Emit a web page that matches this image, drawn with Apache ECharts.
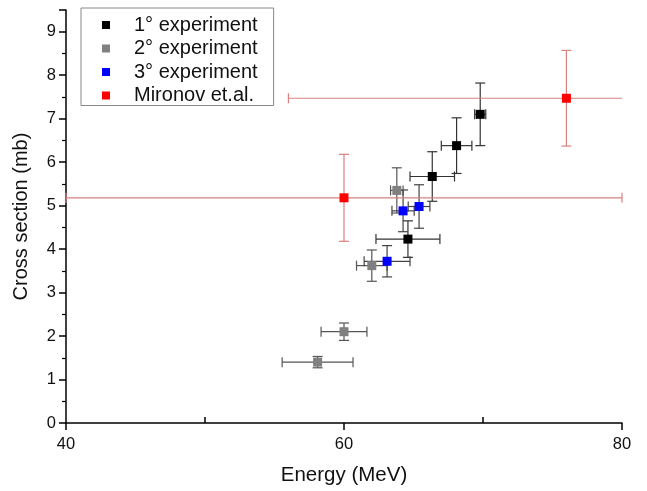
<!DOCTYPE html>
<html><head><meta charset="utf-8">
<script src="https://cdn.jsdelivr.net/npm/echarts@6/dist/echarts.min.js"></script>
<style>html,body{margin:0;padding:0;background:#fff}#c{width:647px;height:491px}</style>
</head><body><div id="c"></div>
<script>
// 1° experiment
const exp1E  = [69.8, 68.1, 66.35, 64.6];
const exp1V  = [7.1, 6.38, 5.67, 4.23];
const exp1dE = [0.4, 1.1, 1.6, 2.3];
const exp1dV = [0.72, 0.64, 0.57, 0.42];
// 2° experiment
const exp2E  = [63.8, 62.0, 60.0, 58.1];
const exp2V  = [5.35, 3.62, 2.1, 1.4];
const exp2dE = [0.45, 1.1, 1.65, 2.55];
const exp2dV = [0.52, 0.36, 0.2, 0.13];
// 3° experiment
const exp3E  = [64.25, 65.4, 63.1];
const exp3V  = [4.88, 4.98, 3.72];
const exp3dE = [0.8, 0.78, 1.65];
const exp3dV = [0.48, 0.5, 0.36];
// Mironov et.al.
const mirE  = [60.0, 76.0];
const mirV  = [5.18, 7.47];
const mirdE = [20, 20];
const mirdV = [1.0, 1.1];
// axis ticks
const xMinorTicks = [50, 70];

const seriesDefs = [
  {name: '1° experiment', E: exp1E, V: exp1V, dE: exp1dE, dV: exp1dV, color: '#000000', err: '#333333'},
  {name: '2° experiment', E: exp2E, V: exp2V, dE: exp2dE, dV: exp2dV, color: '#808080', err: '#555555'},
  {name: '3° experiment', E: exp3E, V: exp3V, dE: exp3dE, dV: exp3dV, color: '#0000ff', err: '#444444'},
  {name: 'Mironov et.al.', E: mirE, V: mirV, dE: mirdE, dV: mirdV, color: '#ff0000', err: '#d98080'}
];

function errSeries(d) {
  return {
    type: 'custom', name: d.name + ' err', silent: true, z: 1,
    xAxisIndex: 0, yAxisIndex: 0,
    data: d.E.map((e, i) => [e, d.V[i], d.dE[i], d.dV[i]]),
    renderItem: function (params, api) {
      const cs = params.coordSys;
      const x = api.value(0), y = api.value(1), dx = api.value(2), dy = api.value(3);
      const c = api.coord([x, y]);
      let l = api.coord([x - dx, y])[0], r = api.coord([x + dx, y])[0];
      const t = api.coord([x, y + dy])[1], b = api.coord([x, y - dy])[1];
      const lClip = l < cs.x - 0.5, rClip = r > cs.x + cs.width + 0.5;
      l = Math.max(l, cs.x); r = Math.min(r, cs.x + cs.width);
      const cap = 5;
      const st = {stroke: d.err, lineWidth: 1.2, fill: null};
      const ch = [
        {type: 'line', shape: {x1: l, y1: c[1], x2: r, y2: c[1]}, style: st},
        {type: 'line', shape: {x1: c[0], y1: t, x2: c[0], y2: b}, style: st},
        {type: 'line', shape: {x1: c[0] - cap, y1: t, x2: c[0] + cap, y2: t}, style: st},
        {type: 'line', shape: {x1: c[0] - cap, y1: b, x2: c[0] + cap, y2: b}, style: st}
      ];
      if (!lClip) ch.push({type: 'line', shape: {x1: l, y1: c[1] - cap, x2: l, y2: c[1] + cap}, style: st});
      if (!rClip) ch.push({type: 'line', shape: {x1: r, y1: c[1] - cap, x2: r, y2: c[1] + cap}, style: st});
      return {type: 'group', children: ch};
    }
  };
}

const series = [];
seriesDefs.forEach(d => series.push(errSeries(d)));
seriesDefs.forEach(d => series.push({
  type: 'scatter', name: d.name, symbol: 'rect', symbolSize: 9, z: 3,
  xAxisIndex: 0, yAxisIndex: 0,
  itemStyle: {color: d.color, opacity: 1},
  data: d.E.map((e, i) => [e, d.V[i]])
}));

const chart = echarts.init(document.getElementById('c'), null, {renderer: 'canvas'});
const font = 'Liberation Sans, Arial, sans-serif';
chart.setOption({
  animation: false,
  backgroundColor: '#fff',
  grid: {left: 66, right: 25, top: 10, bottom: 68, show: false},
  legend: {
    data: seriesDefs.map(d => d.name),
    orient: 'vertical', left: 81, top: 8,
    icon: 'rect', itemWidth: 8, itemHeight: 8, itemGap: 3.5,
    padding: [7, 16, 0, 21],
    borderColor: '#888', borderWidth: 1,
    textStyle: {fontFamily: font, fontSize: 20, color: '#111', lineHeight: 16, padding: [0, 0, 0, 19]}
  },
  xAxis: [{
    type: 'value', min: 40, max: 80, interval: 20,
    name: 'Energy (MeV)', nameLocation: 'middle', nameGap: 42,
    nameTextStyle: {fontFamily: font, fontSize: 20.5, color: '#111'},
    axisLine: {show: true, onZero: false, lineStyle: {color: '#000', width: 1.5}},
    axisTick: {show: true, length: 7, lineStyle: {color: '#000', width: 1.5}},
    axisLabel: {fontFamily: font, fontSize: 16.5, color: '#111', margin: 13},
    splitLine: {show: false}
  }, {
    type: 'value', min: 40, max: 80, interval: 10, position: 'bottom',
    axisLine: {show: false, onZero: false},
    axisTick: {show: true, inside: true, length: 6, customValues: xMinorTicks, lineStyle: {color: '#000', width: 1.5}},
    axisLabel: {show: false},
    splitLine: {show: false}
  }],
  yAxis: {
    type: 'value', min: 0, max: 9.5, interval: 1,
    name: 'Cross section (mb)', nameLocation: 'middle', nameGap: 35,
    nameTextStyle: {fontFamily: font, fontSize: 20, color: '#111'},
    axisLine: {show: true, onZero: false, lineStyle: {color: '#000', width: 1.5}},
    axisTick: {show: true, length: 7, lineStyle: {color: '#000', width: 1.5}},
    minorTick: {show: true, splitNumber: 2, length: 4, lineStyle: {color: '#000', width: 1.2}},
    axisLabel: {fontFamily: font, fontSize: 16.5, color: '#111', margin: 10,
      formatter: v => (Number.isInteger(v) ? String(v) : '')},
    splitLine: {show: false}
  },
  series: series
});
</script></body></html>
